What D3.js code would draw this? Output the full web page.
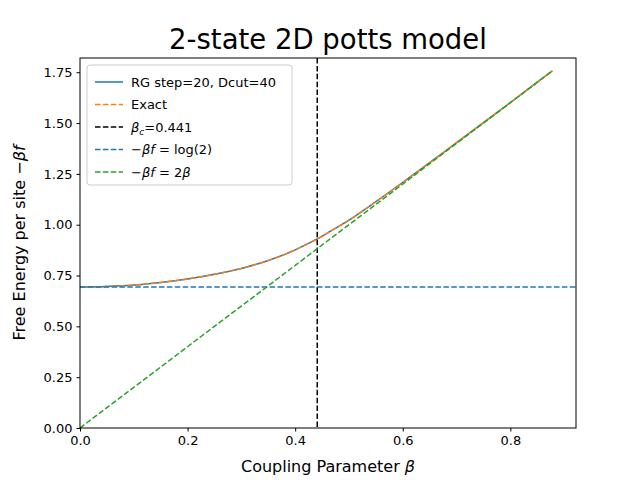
<!DOCTYPE html>
<html><head><meta charset="utf-8">
<script src="https://cdn.jsdelivr.net/npm/d3@7"></script>
<style>body{margin:0;background:#fff}text{font-family:"DejaVu Sans",sans-serif}</style>
</head><body><div id="chart"></div>
<script>
const betas = [0, 0.05, 0.1, 0.15, 0.2, 0.25, 0.3, 0.35, 0.4, 0.42, 0.441, 0.46, 0.5, 0.55, 0.6, 0.65, 0.7, 0.75, 0.8, 0.85, 0.878];
const rgValues = [0.693, 0.696, 0.703, 0.716, 0.733, 0.756, 0.785, 0.824, 0.876, 0.902, 0.930, 0.959, 1.022, 1.113, 1.208, 1.305, 1.404, 1.502, 1.601, 1.701, 1.757];
const exactValues = rgValues.slice();
const betaC = 0.441;
const xTicks = [0, 0.2, 0.4, 0.6, 0.8];
const yTicks = [0, 0.25, 0.5, 0.75, 1.0, 1.25, 1.5, 1.75];

const margin = { top: 58, right: 64, bottom: 52, left: 80 },
    width = 640 - margin.left - margin.right,
    height = 480 - margin.top - margin.bottom;

const svgContainer = d3.select("#chart").append("svg")
    .attr("width", 640).attr("height", 480);
const svg = svgContainer.append("g")
    .attr("transform", `translate(${margin.left},${margin.top})`);

const x = d3.scaleLinear().domain([0, 0.922]).range([0, width]);
const y = d3.scaleLinear().domain([0, 1.82]).range([height, 0]);

svg.append("defs").append("clipPath").attr("id", "clip")
    .append("rect").attr("width", width).attr("height", height);
const plot = svg.append("g").attr("clip-path", "url(#clip)");

const line = d3.line().x(d => x(d[0])).y(d => y(d[1])).curve(d3.curveMonotoneX);

plot.append("path").datum(betas.map((b, i) => [b, rgValues[i]]))
    .attr("d", line).attr("fill", "none").attr("stroke", "#1f77b4").attr("stroke-width", 1.5);
plot.append("path").datum(betas.map((b, i) => [b, exactValues[i]]))
    .attr("d", line).attr("fill", "none").attr("stroke", "#ff7f0e").attr("stroke-width", 1.5)
    .attr("stroke-dasharray", "5.5,2.4");
plot.append("line").attr("x1", x(betaC)).attr("x2", x(betaC)).attr("y1", 0).attr("y2", height)
    .attr("stroke", "#000").attr("stroke-width", 1.5).attr("stroke-dasharray", "5.5,2.4");
plot.append("line").attr("x1", 0).attr("x2", width).attr("y1", y(Math.log(2))).attr("y2", y(Math.log(2)))
    .attr("stroke", "#1f77b4").attr("stroke-width", 1.5).attr("stroke-dasharray", "5.5,2.4");
plot.append("path").datum([[0, 0], [betas[betas.length - 1], 2 * betas[betas.length - 1]]])
    .attr("d", d3.line().x(d => x(d[0])).y(d => y(d[1])))
    .attr("fill", "none").attr("stroke", "#2ca02c").attr("stroke-width", 1.5).attr("stroke-dasharray", "5.5,2.4");

const xAxisGroup = svg.append("g").attr("transform", `translate(0,${height})`)
    .call(d3.axisBottom(x).tickValues(xTicks).tickFormat(d3.format(".1f")).tickSize(3.5).tickPadding(4));
const yAxisGroup = svg.append("g")
    .call(d3.axisLeft(y).tickValues(yTicks).tickFormat(d3.format(".2f")).tickSize(3.5).tickPadding(4));
[xAxisGroup, yAxisGroup].forEach(g => {
    g.selectAll("text").style("font-size", "13px").style("fill", "#000");
    g.selectAll("line,path").attr("stroke", "#000");
    g.select(".domain").remove();
});
svg.append("rect").attr("width", width).attr("height", height)
    .attr("fill", "none").attr("stroke", "#000").attr("stroke-width", 1);

svg.append("text").attr("x", width / 2).attr("y", -9).attr("text-anchor", "middle")
    .style("font-size", "27.5px").text("2-state 2D potts model");
svg.append("text").attr("x", width / 2).attr("y", height + 44).attr("text-anchor", "middle")
    .style("font-size", "16px").html('Coupling Parameter <tspan font-style="italic">β</tspan>');
svg.append("text").attr("transform", "rotate(-90)").attr("x", -height / 2).attr("y", -55)
    .attr("text-anchor", "middle").style("font-size", "16px")
    .html('Free Energy per site <tspan font-style="italic">−βf</tspan>');

const legendItems = [
    { label: "RG step=20, Dcut=40", colour: "#1f77b4", dash: null },
    { label: "Exact", colour: "#ff7f0e", dash: "5.5,2.4" },
    { label: '<tspan font-style="italic">β</tspan><tspan font-size="9" dy="3" font-style="italic">c</tspan><tspan dy="-3">=0.441</tspan>', colour: "#000", dash: "5.5,2.4" },
    { label: '−<tspan font-style="italic">βf</tspan> = log(2)', colour: "#1f77b4", dash: "5.5,2.4" },
    { label: '−<tspan font-style="italic">βf</tspan> = 2<tspan font-style="italic">β</tspan>', colour: "#2ca02c", dash: "5.5,2.4" }
];
const legend = svg.append("g").attr("transform", "translate(7,7)");
legend.append("rect").attr("width", 205).attr("height", 120).attr("rx", 3)
    .attr("fill", "#fff").attr("fill-opacity", 0.8).attr("stroke", "#ccc");
legendItems.forEach((d, i) => {
    const row = legend.append("g").attr("transform", `translate(8,${17 + i * 22.5})`);
    row.append("line").attr("x1", 0).attr("x2", 28).attr("stroke", d.colour).attr("stroke-width", 1.5)
        .attr("stroke-dasharray", d.dash);
    row.append("text").attr("x", 36).attr("y", 4.5).style("font-size", "13px").html(d.label);
});
</script></body></html>
